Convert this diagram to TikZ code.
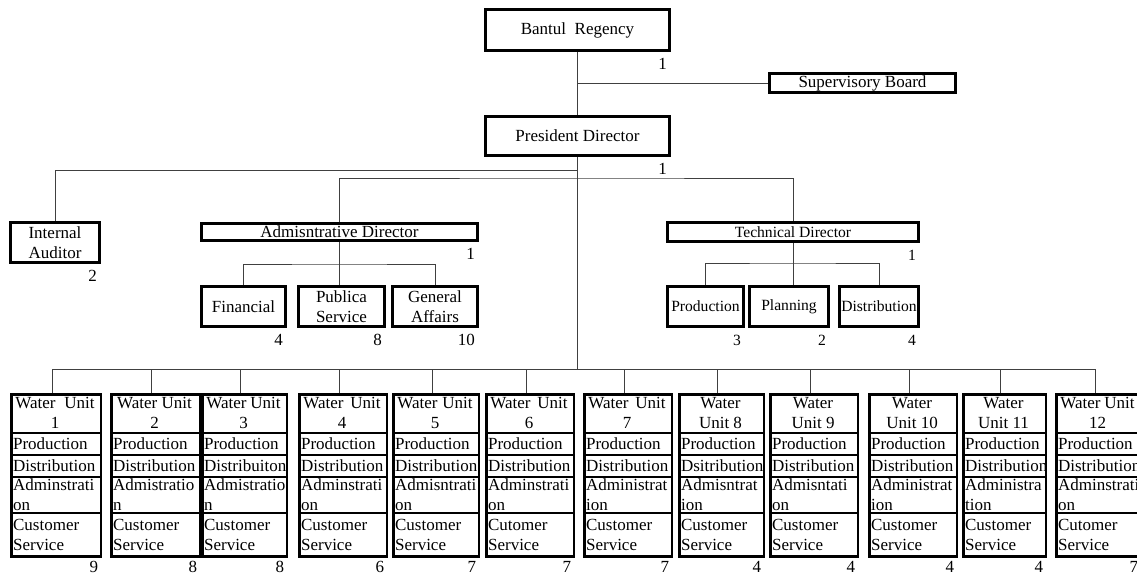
\documentclass[tikz,border=0pt]{standalone}
\usepackage{fontspec}
\setmainfont{Liberation Serif}
% box given by its outer edges: name, x1, y1, x2, y2, text
\newcommand\ebox[7][]{%
  \node[box,#1,minimum width={#5-#3-2.8},minimum height={#6-#4-2.8}]
    (#2) at ({(#3+#5)/2},{(#4+#6)/2}) {#7};}
% header of a water unit with the two words spread over the line
\newcommand\wu[1]{\makebox[\dimexpr\uw pt-10pt\relax][s]{Water Unit}\\#1}
% water unit: name, left, right, header, distribution, administration, customer, staff
\newcommand\wunit[8]{%
  \pgfmathsetmacro\ul{#2+1.4}%
  \pgfmathsetmacro\ur{#3-1.4}%
  \pgfmathsetmacro\uw{#3-#2-2.8}%
  \pgfmathsetmacro\um{(#2+#3)/2}%
  \node[box,minimum width=\uw pt,minimum height=161.4pt,anchor=north west] (#1) at (\ul,393.3) {};
  \draw[rowline] (\ul,433) -- (\ur,433) (\ul,455) -- (\ur,455)
                 (\ul,477) -- (\ur,477) (\ul,513) -- (\ur,513);
  \node[align=center,inner sep=0pt] (#1h) at (\um,413) {#4};
  \node[rowtext] (#1p) at (\ul,444) {Production};
  \node[rowtext] (#1d) at (\ul,466) {#5};
  \node[rowtext] (#1a) at (\ul,495) {#6};
  \node[rowtext] (#1c) at (\ul,534.5) {#7};
  \node[tally,yshift=2.5pt] (#1n) at (#1.south east) {#8};
}
\begin{document}
\begin{tikzpicture}[x=1pt,y=-1pt,
  every node/.style={font=\fontsize{17}{20}\selectfont},
  small/.style={font=\fontsize{15.6}{18}\selectfont},
  box/.style={draw,line width=2.8pt,inner sep=0pt,align=center},
  link/.style={draw=black!75,line width=1pt},
  rowline/.style={line width=1.2pt},
  tally/.style={anchor=base east,inner sep=0pt,xshift=-4pt,yshift=-17pt},
  rowtext/.style={anchor=west,align=left,inner xsep=2.5pt,inner ysep=0pt}]
\useasboundingbox (0,0) rectangle (1137,574);
\clip (0,0) rectangle (1137,574);

% top of the organisation
\ebox{br}{484}{8}{671}{52}{Bantul\ \ Regency}
\ebox{sb}{768}{72}{957}{94}{Supervisory Board}
\ebox{pd}{484}{115}{671}{157}{President Director}
\ebox{ia}{9}{221}{101}{264}{Internal\\Auditor}
\ebox{ad}{200}{222}{479}{242}{Admisntrative Director}
\ebox{fin}{200}{285}{287}{328}{Financial}
\ebox{pub}{297}{285}{386}{328}{Publica\\Service}
\ebox{ga}{391}{285}{479}{328}{General\\Affairs}
\ebox[small]{td}{666}{221}{920}{243}{Technical Director}
\ebox[small]{prod}{666}{285}{745}{328}{Production}
\ebox[small]{plan}{748}{285}{830}{328}{Planning}
\ebox[small]{dist}{838}{285}{920}{328}{Distribution}

\node[tally] (brn) at (br.south east) {1};
\node[tally] (pdn) at (pd.south east) {1};
\node[tally] (ian) at (ia.south east) {2};
\node[tally] (adn) at (ad.south east) {1};
\node[tally] (finn) at (fin.south east) {4};
\node[tally] (pubn) at (pub.south east) {8};
\node[tally] (gan) at (ga.south east) {10};
\node[tally,small] (tdn) at (td.south east) {1};
\node[tally,small] (prodn) at (prod.south east) {3};
\node[tally,small] (plann) at (plan.south east) {2};
\node[tally,small] (distn) at (dist.south east) {4};

% water units
\wunit{u1}{9}{101}{\wu{1}}{Distribution}{Adminstrati\\on}{Customer\\Service}{9}
\wunit{u2}{109}{200}{Water Unit\\2}{Distribution}{Admistratio\\n}{Customer\\Service}{8}
\wunit{u3}{200}{287}{\wu{3}}{Distribuiton}{Admistratio\\n}{Customer\\Service}{8}
\wunit{u4}{297}{387}{\wu{4}}{Distribution}{Adminstrati\\on}{Customer\\Service}{6}
\wunit{u5}{391}{479}{\wu{5}}{Distribution}{Admisntrati\\on}{Customer\\Service}{7}
\wunit{u6}{484}{574}{\wu{6}}{Distribution}{Adminstrati\\on}{Cutomer\\Service}{7}
\wunit{u7}{582}{672}{\wu{7}}{Distribution}{Administrat\\ion}{Customer\\Service}{7}
\wunit{u8}{677}{764}{Water\\Unit 8}{Dsitribution}{Admisntrat\\ion}{Customer\\Service}{4}
\wunit{u9}{768}{858}{Water\\Unit 9}{Distribution}{Admisntati\\on}{Customer\\Service}{4}
\wunit{u10}{867}{957}{Water\\Unit 10}{Distribution}{Administrat\\ion}{Customer\\Service}{4}
\wunit{u11}{961}{1046}{Water\\Unit 11}{Distribution}{Administra\\tion}{Customer\\Service}{4}
\wunit{u12}{1054}{1141}{\wu{12}}{Distribution}{Adminstrati\\on}{Cutomer\\Service}{7}

% junction points of the connectors
\coordinate (iaj) at (577.5,170);
\coordinate (dj) at (577.5,178);
\coordinate (aj) at (339.5,264);
\coordinate (tj) at (793,263);
\coordinate (bus) at (577.5,369);

% connectors
\draw[link] (br.south) -- (pd.north);
\draw[link] (br.south |- sb.west) -- (sb.west);
\draw[link] (pd.south) -- (bus);
\draw[link] (iaj) -| (ia.north);
\draw[link] (ad.north) |- (dj) -| (td.north);
\draw[link] (ad.south) -- (ad.south |- pub.north);
\draw[link] (fin.north) |- (aj) -| (ga.north);
\draw[link] (td.south) -- (td.south |- plan.north);
\draw[link] (prod.north) |- (tj) -| (dist.north);
\draw[link] ([xshift=-4pt]u1.north) |- (bus) -| ([xshift=-3pt]u12.north);
\foreach \k in {2,...,11}
  \draw[link] ([xshift=-4pt]u\k.north) |- (bus);
\end{tikzpicture}
\end{document}
